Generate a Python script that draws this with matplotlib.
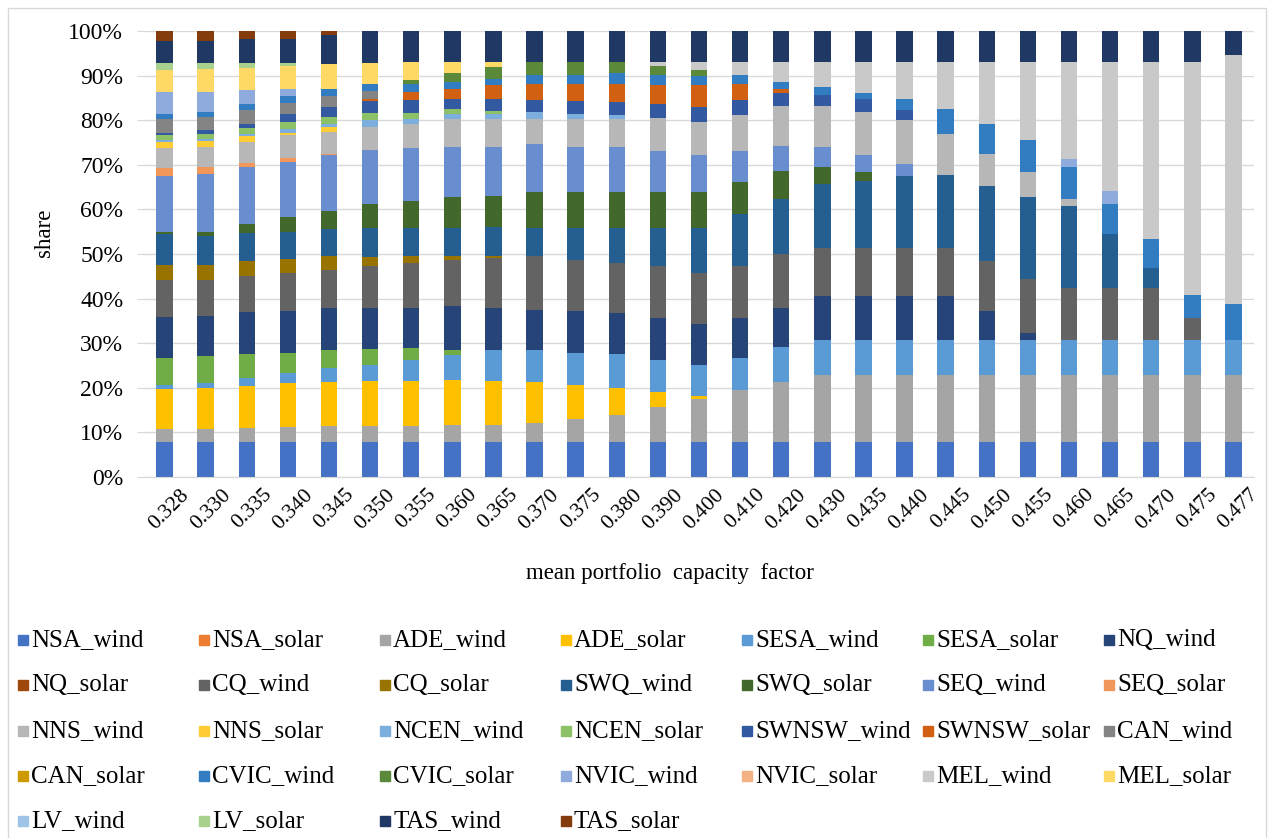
import matplotlib
matplotlib.use("Agg")
import matplotlib.pyplot as plt
import matplotlib.transforms as mtransforms
import numpy as np
from matplotlib.patches import Rectangle

plt.rcParams["font.family"] = ["Liberation Serif", "DejaVu Serif"]

capacity_factor = ["0.328", "0.330", "0.335", "0.340", "0.345", "0.350", "0.355",
                   "0.360", "0.365", "0.370", "0.375", "0.380", "0.390", "0.400",
                   "0.410", "0.420", "0.430", "0.435", "0.440", "0.445", "0.450",
                   "0.455", "0.460", "0.465", "0.470", "0.475", "0.477"]

# share of each zone/technology (percent) for every portfolio
nsa_wind = [7.9, 7.9, 7.9, 7.9, 7.9, 7.9, 7.9, 7.9, 7.9, 7.9, 7.9, 7.9, 7.9, 7.9,
            7.9, 7.9, 7.9, 7.9, 7.9, 7.9, 7.9, 7.9, 7.9, 7.9, 7.9, 7.9, 7.9]
nsa_solar = [0, 0, 0, 0, 0, 0, 0, 0, 0, 0, 0, 0, 0, 0,
             0, 0, 0, 0, 0, 0, 0, 0, 0, 0, 0, 0, 0]
ade_wind = [2.8, 2.8, 3.1, 3.4, 3.5, 3.6, 3.6, 3.7, 3.7, 4.1, 5.1, 6.0, 7.9, 9.7,
            11.6, 13.5, 15.0, 15.0, 15.0, 15.0, 15.0, 15.0, 15.0, 15.0, 15.0, 15.0, 15.0]
ade_solar = [9.0, 9.2, 9.3, 9.7, 10.0, 10.0, 10.0, 10.2, 9.9, 9.4, 7.6, 6.1, 3.3, 0.6,
             0, 0, 0, 0, 0, 0, 0, 0, 0, 0, 0, 0, 0]
sesa_wind = [0.9, 1.1, 2.0, 2.3, 3.0, 3.7, 4.8, 5.6, 7.0, 7.1, 7.2, 7.6, 7.2, 7.0,
             7.2, 7.7, 7.9, 7.9, 7.9, 7.9, 7.9, 7.9, 7.9, 7.9, 7.9, 7.9, 7.9]
sesa_solar = [6.1, 6.2, 5.3, 4.6, 4.1, 3.5, 2.6, 1.1, 0, 0, 0, 0, 0, 0,
              0, 0, 0, 0, 0, 0, 0, 0, 0, 0, 0, 0, 0]
nq_wind = [9.1, 8.8, 9.3, 9.4, 9.3, 9.2, 9.0, 9.8, 9.4, 9.0, 9.4, 9.2, 9.4, 9.1,
           9.0, 8.8, 9.7, 9.7, 9.7, 9.7, 6.4, 1.5, 0, 0, 0, 0, 0]
nq_solar = [0, 0, 0, 0, 0, 0, 0, 0, 0, 0, 0, 0, 0, 0,
            0, 0, 0, 0, 0, 0, 0, 0, 0, 0, 0, 0, 0]
cq_wind = [8.3, 8.1, 8.1, 8.5, 8.7, 9.4, 10.1, 10.3, 11.1, 12.0, 11.4, 11.2, 11.6, 11.5,
           11.6, 12.0, 10.9, 10.9, 10.9, 10.9, 11.2, 12.0, 11.6, 11.6, 11.6, 4.9, 0]
cq_solar = [3.4, 3.4, 3.4, 3.0, 3.0, 2.0, 1.5, 0.9, 0.5, 0, 0, 0, 0, 0,
            0, 0, 0, 0, 0, 0, 0, 0, 0, 0, 0, 0, 0]
swq_wind = [6.9, 6.6, 6.2, 6.2, 6.1, 6.6, 6.4, 6.4, 6.6, 6.4, 7.3, 7.9, 8.6, 10.1,
            11.6, 12.4, 14.3, 15.0, 16.2, 16.4, 16.9, 18.4, 18.4, 12.0, 4.5, 0, 0]
swq_solar = [0.6, 0.9, 2.1, 3.3, 4.1, 5.3, 6.0, 6.9, 7.0, 7.9, 7.9, 7.9, 7.9, 7.9,
             7.2, 6.4, 3.7, 1.9, 0, 0, 0, 0, 0, 0, 0, 0, 0]
seq_wind = [12.6, 12.9, 12.7, 12.3, 12.4, 12.1, 11.8, 11.1, 11.0, 10.9, 10.3, 10.1, 9.2, 8.3,
            7.1, 5.6, 4.5, 3.8, 2.6, 0, 0, 0, 0, 0, 0, 0, 0]
seq_solar = [1.7, 1.5, 0.9, 0.9, 0.3, 0, 0, 0, 0, 0, 0, 0, 0, 0,
             0, 0, 0, 0, 0, 0, 0, 0, 0, 0, 0, 0, 0]
nns_wind = [4.5, 4.7, 4.8, 5.1, 4.9, 5.2, 5.5, 6.4, 6.2, 5.6, 6.2, 6.4, 7.6, 7.5,
            7.9, 8.8, 9.2, 9.7, 9.9, 9.2, 7.1, 5.6, 1.5, 0, 0, 0, 0]
nns_solar = [1.3, 1.2, 1.3, 0.5, 1.2, 0, 0, 0, 0, 0, 0, 0, 0, 0,
             0, 0, 0, 0, 0, 0, 0, 0, 0, 0, 0, 0, 0]
ncen_wind = [0.5, 0.5, 0.6, 1.0, 0.7, 1.5, 1.1, 1.2, 1.2, 1.5, 1.2, 0.8, 0, 0,
             0, 0, 0, 0, 0, 0, 0, 0, 0, 0, 0, 0, 0]
ncen_solar = [1.0, 1.2, 1.3, 1.5, 1.5, 1.6, 1.3, 0.9, 0.6, 0, 0, 0, 0, 0,
              0, 0, 0, 0, 0, 0, 0, 0, 0, 0, 0, 0, 0]
swnsw_wind = [0.6, 0.7, 0.8, 1.9, 2.3, 2.7, 2.9, 2.4, 2.7, 2.8, 2.7, 3.0, 3.0, 3.4,
              3.4, 2.9, 2.5, 3.0, 2.1, 0, 0, 0, 0, 0, 0, 0, 0]
swnsw_solar = [0, 0, 0, 0, 0, 0.5, 1.8, 2.3, 3.0, 3.6, 4.0, 4.1, 4.2, 4.8,
               3.7, 1.1, 0, 0, 0, 0, 0, 0, 0, 0, 0, 0, 0]
can_wind = [3.1, 3.0, 3.1, 2.4, 2.4, 1.8, 0, 0, 0, 0, 0, 0, 0, 0,
            0, 0, 0, 0, 0, 0, 0, 0, 0, 0, 0, 0, 0]
can_solar = [0, 0, 0, 0, 0, 0, 0, 0, 0, 0, 0, 0, 0, 0,
             0, 0, 0, 0, 0, 0, 0, 0, 0, 0, 0, 0, 0]
cvic_wind = [1.2, 1.1, 1.5, 1.5, 1.7, 1.6, 1.9, 1.5, 1.5, 1.9, 1.9, 2.3, 2.3, 2.1,
             1.9, 1.5, 1.9, 1.2, 2.6, 5.6, 6.8, 7.3, 7.1, 6.8, 6.4, 5.2, 7.9]
cvic_solar = [0, 0, 0, 0, 0, 0, 0.9, 1.9, 2.7, 3.0, 3.0, 2.6, 2.0, 1.3,
              0, 0, 0, 0, 0, 0, 0, 0, 0, 0, 0, 0, 0]
nvic_wind = [4.8, 4.5, 3.0, 1.7, 0, 0, 0, 0, 0, 0, 0, 0, 0, 0,
             0, 0, 0, 0, 0, 0, 0, 0, 1.9, 3.0, 0, 0, 0]
nvic_solar = [0, 0, 0, 0, 0, 0, 0, 0, 0, 0, 0, 0, 0, 0,
              0, 0, 0, 0, 0, 0, 0, 0, 0, 0, 0, 0, 0]
mel_wind = [0, 0, 0, 0, 0, 0, 0, 0, 0, 0, 0, 0, 1.0, 1.9,
            3.0, 4.5, 5.6, 7.1, 8.3, 10.5, 13.9, 17.5, 21.8, 28.9, 39.8, 52.2, 55.9]
mel_solar = [4.9, 5.1, 5.1, 5.0, 5.6, 4.7, 4.0, 2.6, 1.1, 0, 0, 0, 0, 0,
             0, 0, 0, 0, 0, 0, 0, 0, 0, 0, 0, 0, 0]
lv_wind = [0, 0, 0, 0, 0, 0, 0, 0, 0, 0, 0, 0, 0, 0,
           0, 0, 0, 0, 0, 0, 0, 0, 0, 0, 0, 0, 0]
lv_solar = [1.7, 1.5, 1.1, 0.8, 0, 0, 0, 0, 0, 0, 0, 0, 0, 0,
            0, 0, 0, 0, 0, 0, 0, 0, 0, 0, 0, 0, 0]
tas_wind = [4.9, 4.9, 5.4, 5.4, 6.4, 7.1, 6.9, 6.9, 6.9, 6.9, 6.9, 6.9, 6.9, 6.9,
            6.9, 6.9, 6.9, 6.9, 6.9, 6.9, 6.9, 6.9, 6.9, 6.9, 6.9, 6.9, 5.4]
tas_solar = [2.2, 2.2, 1.7, 1.7, 0.9, 0, 0, 0, 0, 0, 0, 0, 0, 0,
             0, 0, 0, 0, 0, 0, 0, 0, 0, 0, 0, 0, 0]

series_names = ["NSA_wind", "NSA_solar", "ADE_wind", "ADE_solar", "SESA_wind",
                "SESA_solar", "NQ_wind", "NQ_solar", "CQ_wind", "CQ_solar",
                "SWQ_wind", "SWQ_solar", "SEQ_wind", "SEQ_solar", "NNS_wind",
                "NNS_solar", "NCEN_wind", "NCEN_solar", "SWNSW_wind", "SWNSW_solar",
                "CAN_wind", "CAN_solar", "CVIC_wind", "CVIC_solar", "NVIC_wind",
                "NVIC_solar", "MEL_wind", "MEL_solar", "LV_wind", "LV_solar",
                "TAS_wind", "TAS_solar"]
series_values = [nsa_wind, nsa_solar, ade_wind, ade_solar, sesa_wind, sesa_solar,
                 nq_wind, nq_solar, cq_wind, cq_solar, swq_wind, swq_solar,
                 seq_wind, seq_solar, nns_wind, nns_solar, ncen_wind, ncen_solar,
                 swnsw_wind, swnsw_solar, can_wind, can_solar, cvic_wind, cvic_solar,
                 nvic_wind, nvic_solar, mel_wind, mel_solar, lv_wind, lv_solar,
                 tas_wind, tas_solar]

# office style palette, cycled through shades
colors = ["#4472C4", "#ED7D31", "#A5A5A5", "#FFC000", "#5B9BD5", "#70AD47",
          "#264478", "#9E480E", "#636363", "#997300", "#255E91", "#43682B",
          "#698ED0", "#F1975A", "#B7B7B7", "#FFCD33", "#7CAFDD", "#8CC168",
          "#335AA1", "#D26012", "#848484", "#CC9A00", "#327DC2", "#5A8A39",
          "#8FAADC", "#F4B183", "#C9C9C9", "#FFD966", "#9DC3E6", "#A9D18E",
          "#203864", "#843C0C"]

W, H = 1276, 838
fig = plt.figure(figsize=(W / 100, H / 100), dpi=100)
ax = fig.add_axes([144 / W, 1 - 477 / H, 1110 / W, 446 / H])

values = np.array(series_values, dtype=float)
shares = values / values.sum(axis=0)
x = np.arange(len(capacity_factor))

bottom = np.zeros(len(capacity_factor))
for name, share, color in zip(series_names, shares, colors):
    ax.bar(x, share, 0.4, bottom=bottom, color=color, label=name, zorder=2)
    bottom += share

ax.set_xlim(-0.5, len(capacity_factor) - 0.5)
ax.set_ylim(0, 1)
ax.set_yticks(np.linspace(0, 1, 11))
ax.set_yticklabels([f"{p}%" for p in range(0, 101, 10)])
ax.set_xticks(x)
ax.set_xticklabels(capacity_factor, rotation=45, ha="center", va="top")
ax.tick_params(axis="y", labelsize=17, length=5, color="#D9D9D9", pad=10)
ax.tick_params(axis="x", labelsize=15.5, length=0, pad=6)
shift = mtransforms.ScaledTranslation(5 / 100, 0, fig.dpi_scale_trans)
for lab in ax.get_xticklabels():
    lab.set_transform(lab.get_transform() + shift)
ax.grid(axis="y", color="#D9D9D9", linewidth=1, zorder=0)
for side in ["top", "right", "left"]:
    ax.spines[side].set_visible(False)
ax.spines["bottom"].set_color("#D9D9D9")

fig.text(670 / W, 1 - 573 / H, "mean portfolio  capacity  factor",
         ha="center", va="center", fontsize=16.5)
fig.text(45 / W, 1 - 233 / H, "share", ha="center", va="center",
         rotation=90, fontsize=16.5)

# legend laid out in a fixed 7-column grid
for i, (name, color) in enumerate(zip(series_names, colors)):
    row, col = divmod(i, 7)
    lx = 18 + col * 181
    ly = 640 + row * 45.3
    fig.patches.append(Rectangle((lx / W, 1 - (ly + 5) / H), 10 / W, 10 / H,
                                 transform=fig.transFigure, color=color))
    fig.text((lx + 13) / W, 1 - ly / H, name, ha="left", va="center",
             fontsize=18)

fig.patches.append(Rectangle((8 / W, -0.01), 1258 / W, 1 - 8 / H + 0.01,
                             transform=fig.transFigure, fill=False,
                             edgecolor="#D9D9D9", linewidth=1))

fig.savefig("out.png", dpi=100)
